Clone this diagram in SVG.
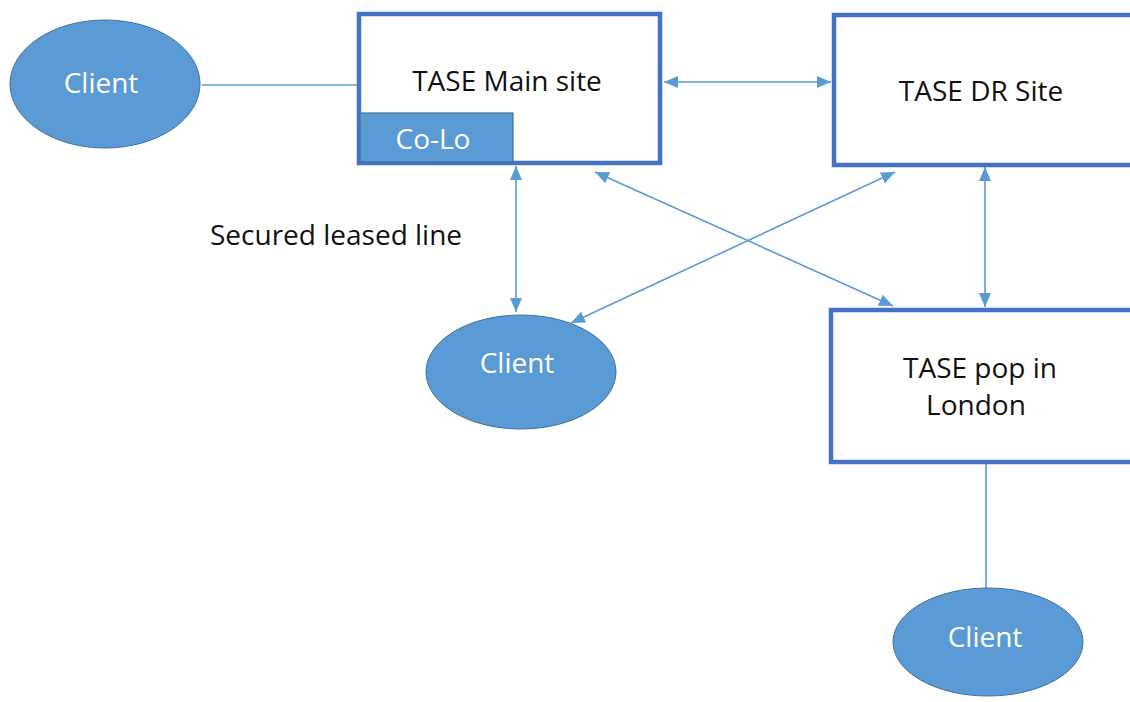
<svg xmlns="http://www.w3.org/2000/svg" width="1130" height="702" viewBox="0 0 1130 702">
<style>
.box{fill:#fff;stroke:#4472C4;stroke-width:4.5}
.cl{fill:#5B9BD5;stroke:#41719C;stroke-width:1}
.colo{fill:#5B9BD5;stroke:#41719C;stroke-width:1.2}
.t{font-family:"Open Sans","Liberation Sans",sans-serif;font-size:28px;fill:#111;text-anchor:middle}
.w{fill:#fff}
.c{stroke:#5B9BD5;stroke-width:1.6;fill:none}
.a{marker-start:url(#ah);marker-end:url(#ah)}
</style>
<defs>
<marker id="ah" viewBox="0 0 14 12" refX="14" refY="6" markerWidth="14" markerHeight="12" markerUnits="userSpaceOnUse" orient="auto-start-reverse">
<path d="M0,0 L14,6 L0,12 z" fill="#5B9BD5"/>
</marker>
</defs>
<rect width="1130" height="702" fill="#fff"/>
<g id="connectors">
<line class="c" x1="202" y1="85" x2="357" y2="85"/>
<line class="c a" x1="664" y1="82" x2="831" y2="82"/>
<line class="c a" x1="516" y1="166" x2="516" y2="312"/>
<line class="c a" x1="595" y1="172" x2="893" y2="306"/>
<line class="c a" x1="895" y1="172" x2="571" y2="323"/>
<line class="c a" x1="985" y1="167" x2="985" y2="307"/>
<line class="c" x1="986" y1="464" x2="986" y2="588"/>
</g>
<g id="client1">
<ellipse class="cl" cx="105" cy="84" rx="95" ry="64"/>
<text class="t w" x="101" y="93">Client</text>
</g>
<g id="main-site">
<rect class="box" x="359" y="14" width="301" height="149"/>
<text class="t" x="507" y="91">TASE Main site</text>
</g>
<g id="colo">
<rect class="colo" x="360" y="113" width="153" height="49"/>
<text class="t w" x="433" y="149">Co-Lo</text>
</g>
<g id="dr-site">
<rect class="box" x="834" y="15" width="310" height="150"/>
<text class="t" x="981" y="101">TASE DR Site</text>
</g>
<g id="label">
<text class="t" x="210" y="245" style="text-anchor:start">Secured leased line</text>
</g>
<g id="client2">
<ellipse class="cl" cx="521" cy="372" rx="95" ry="57"/>
<text class="t w" x="517" y="373">Client</text>
</g>
<g id="london">
<rect class="box" x="831" y="310" width="310" height="152"/>
<text class="t" x="980" y="378">TASE pop in</text>
<text class="t" x="976" y="415">London</text>
</g>
<g id="client3">
<ellipse class="cl" cx="988" cy="642" rx="95" ry="54"/>
<text class="t w" x="985" y="647">Client</text>
</g>
</svg>
